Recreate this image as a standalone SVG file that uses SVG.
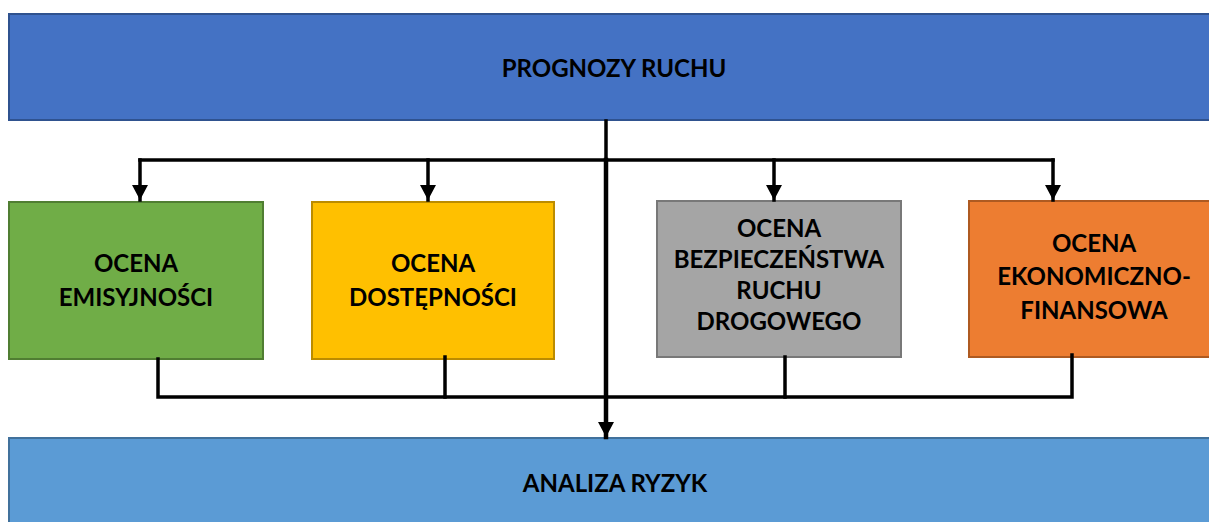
<svg xmlns="http://www.w3.org/2000/svg" width="1209" height="522" viewBox="0 0 1209 522">
<defs>
<style>
.t{font-family:Lato,"Open Sans","Liberation Sans",sans-serif;font-weight:bold;font-size:24px;fill:#000;text-anchor:middle}
.ln{fill:none;stroke:#000;stroke-width:3.5;stroke-linecap:square;stroke-linejoin:miter}
.box{stroke-width:2}
</style>
<marker id="ah" viewBox="0 0 15 16" refX="15" refY="8" markerWidth="15" markerHeight="16" markerUnits="userSpaceOnUse" orient="auto">
<path d="M0,0 L15,8 L0,16 Z" fill="#000"/>
</marker>
</defs>
<rect width="1209" height="522" fill="#fff"/>
<g id="prognozy">
<rect class="box" x="9" y="14" width="1210" height="106" fill="#4472C4" stroke="#2F528F"/>
<text class="t" x="614" y="76.6">PROGNOZY RUCHU</text>
</g>
<g id="analiza">
<rect class="box" x="9" y="438" width="1210" height="100" fill="#5B9BD5" stroke="#41719C"/>
<text class="t" x="615" y="491.6">ANALIZA RYZYK</text>
</g>
<g id="emisyjnosc">
<rect class="box" x="9" y="202" width="254" height="157" fill="#70AD47" stroke="#507E32"/>
<text class="t" x="136" y="271.6">OCENA</text>
<text class="t" x="136" y="305.6">EMISYJNOŚCI</text>
</g>
<g id="dostepnosc">
<rect class="box" x="312" y="202" width="242" height="157" fill="#FFC000" stroke="#BC8C00"/>
<text class="t" x="433" y="271.6">OCENA</text>
<text class="t" x="433" y="305.6">DOSTĘPNOŚCI</text>
</g>
<g id="bezpieczenstwo">
<rect class="box" x="657" y="201" width="244" height="156" fill="#A5A5A5" stroke="#787878"/>
<text class="t" x="779" y="236.5">OCENA</text>
<text class="t" x="779" y="267.5">BEZPIECZEŃSTWA</text>
<text class="t" x="779" y="298.5">RUCHU</text>
<text class="t" x="779" y="329.5">DROGOWEGO</text>
</g>
<g id="ekonomiczna">
<rect class="box" x="969" y="201" width="250" height="156" fill="#ED7D31" stroke="#AE5A21"/>
<text class="t" x="1094" y="251.5">OCENA</text>
<text class="t" x="1094" y="284.5">EKONOMICZNO-</text>
<text class="t" x="1094" y="318.5">FINANSOWA</text>
</g>
<g id="connectors">
<path class="ln" d="M606,121 V160"/>
<path class="ln" d="M140,160 H1053"/>
<path class="ln" d="M140,160 V200" marker-end="url(#ah)"/>
<path class="ln" d="M428,160 V200" marker-end="url(#ah)"/>
<path class="ln" d="M774,160 V200" marker-end="url(#ah)"/>
<path class="ln" d="M1053,160 V200" marker-end="url(#ah)"/>
<path class="ln" d="M158,359 V397 H1072 V355"/>
<path class="ln" d="M445,357 V397"/>
<path class="ln" d="M785,357 V397"/>
<path class="ln" d="M606,160 V437" style="stroke-width:4.5" marker-end="url(#ah)"/>
</g>
</svg>
